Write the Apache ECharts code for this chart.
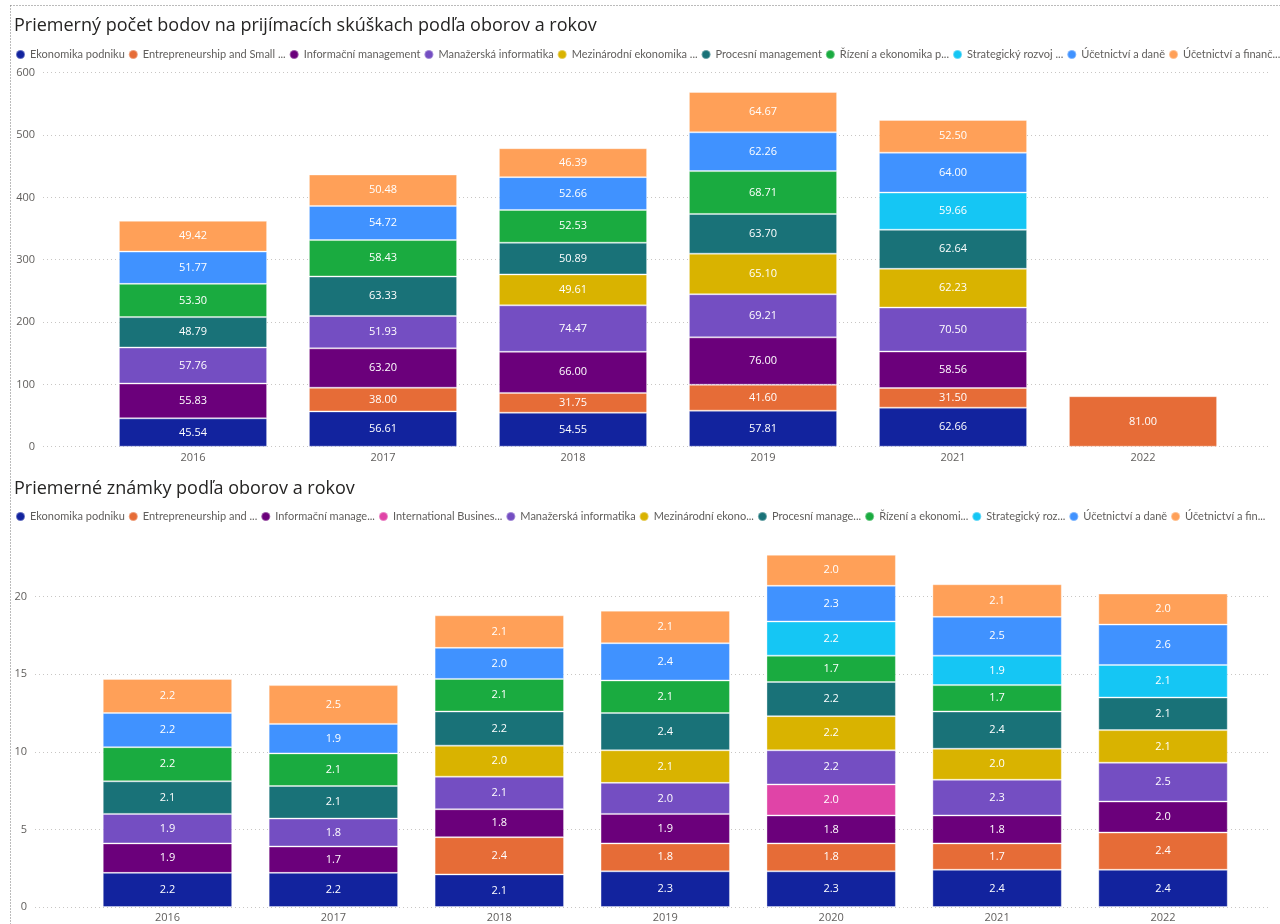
<!DOCTYPE html>
<html>
<head>
<meta charset="utf-8">
<script src="https://cdn.jsdelivr.net/npm/echarts@6/dist/echarts.min.js"></script>
<style>
html,body{margin:0;padding:0;background:#fff;}
#chart{width:1280px;height:924px;}
</style>
</head>
<body>
<div id="chart"></div>
<script>
// ---------- Data: top chart (points) ----------
const topTitle = 'Priemerný počet bodov na prijímacích skúškach podľa oborov a rokov';
const topYears = ['2016', '2017', '2018', '2019', '2021', '2022'];
const topNames = [
  'Ekonomika podniku', 'Entrepreneurship and Small ...', 'Informační management',
  'Manažerská informatika', 'Mezinárodní ekonomika ...', 'Procesní management',
  'Řízení a ekonomika p...', 'Strategický rozvoj ...', 'Účetnictví a daně', 'Účetnictví a finanč...'
];
const topEkonomika     = [45.54, 56.61, 54.55, 57.81, 62.66, null];
const topEntrepreneur  = [null, 38.00, 31.75, 41.60, 31.50, 81.00];
const topInformacni    = [55.83, 63.20, 66.00, 76.00, 58.56, null];
const topManazerska    = [57.76, 51.93, 74.47, 69.21, 70.50, null];
const topMezinarodni   = [null, null, 49.61, 65.10, 62.23, null];
const topProcesni      = [48.79, 63.33, 50.89, 63.70, 62.64, null];
const topRizeni        = [53.30, 58.43, 52.53, 68.71, null, null];
const topStrategicky   = [null, null, null, null, 59.66, null];
const topUcetDane      = [51.77, 54.72, 52.66, 62.26, 64.00, null];
const topUcetFin       = [49.42, 50.48, 46.39, 64.67, 52.50, null];
const topYTicks = [0, 100, 200, 300, 400, 500, 600];

// ---------- Data: bottom chart (grades) ----------
const botTitle = 'Priemerné známky podľa oborov a rokov';
const botYears = ['2016', '2017', '2018', '2019', '2020', '2021', '2022'];
const botNames = [
  'Ekonomika podniku', 'Entrepreneurship and ...', 'Informační manage...', 'International Busines...',
  'Manažerská informatika', 'Mezinárodní ekono...', 'Procesní manage...', 'Řízení a ekonomi...',
  'Strategický roz...', 'Účetnictví a daně', 'Účetnictví a fin...'
];
const botEkonomika     = [2.2, 2.2, 2.1, 2.3, 2.3, 2.4, 2.4];
const botEntrepreneur  = [null, null, 2.4, 1.8, 1.8, 1.7, 2.4];
const botInformacni    = [1.9, 1.7, 1.8, 1.9, 1.8, 1.8, 2.0];
const botInternational = [null, null, null, null, 2.0, null, null];
const botManazerska    = [1.9, 1.8, 2.1, 2.0, 2.2, 2.3, 2.5];
const botMezinarodni   = [null, null, 2.0, 2.1, 2.2, 2.0, 2.1];
const botProcesni      = [2.1, 2.1, 2.2, 2.4, 2.2, 2.4, 2.1];
const botRizeni        = [2.2, 2.1, 2.1, 2.1, 1.7, 1.7, null];
const botStrategicky   = [null, null, null, null, 2.2, 1.9, 2.1];
const botUcetDane      = [2.2, 1.9, 2.0, 2.4, 2.3, 2.5, 2.6];
const botUcetFin       = [2.2, 2.5, 2.1, 2.1, 2.0, 2.1, 2.0];
const botYTicks = [0, 5, 10, 15, 20];

// ---------- Colors ----------
const C = {
  ek: '#12239E', en: '#E66C37', inf: '#6B007B', intl: '#E044A7', man: '#744EC2',
  mez: '#D9B300', proc: '#197278', riz: '#1AAB40', str: '#15C6F4', ud: '#4092FF', uf: '#FFA058'
};
const topColors = [C.ek, C.en, C.inf, C.man, C.mez, C.proc, C.riz, C.str, C.ud, C.uf];
const botColors = [C.ek, C.en, C.inf, C.intl, C.man, C.mez, C.proc, C.riz, C.str, C.ud, C.uf];
const topData = [topEkonomika, topEntrepreneur, topInformacni, topManazerska, topMezinarodni,
  topProcesni, topRizeni, topStrategicky, topUcetDane, topUcetFin];
const botData = [botEkonomika, botEntrepreneur, botInformacni, botInternational, botManazerska,
  botMezinarodni, botProcesni, botRizeni, botStrategicky, botUcetDane, botUcetFin];

const FONT = 'Open Sans';
const LFONT = 'Lato';
const GRAY = '#605E5C';

function makeSeries(names, data, colors, xi, yi, stack, decimals) {
  return names.map((n, i) => ({
    name: n, type: 'bar', stack: stack, xAxisIndex: xi, yAxisIndex: yi,
    barCategoryGap: '22%',
    data: data[i],
    itemStyle: { color: colors[i], borderColor: 'rgba(255,255,255,0.35)', borderWidth: 1 },
    label: {
      show: true, position: 'inside', color: '#fff', fontSize: 11, fontFamily: FONT,
      formatter: p => (p.value == null ? '' : Number(p.value).toFixed(decimals))
    },
    emphasis: { disabled: true }
  }));
}

const gridLineStyle = { color: '#C8C6C4', type: [1, 3], width: 1 };
const legendText = { fontSize: 11, color: GRAY, fontFamily: LFONT };

const option = {
  animation: false,
  textStyle: { fontFamily: FONT },
  title: [
    { text: topTitle, left: 9, top: 12, textStyle: { fontFamily: FONT, fontSize: 18, fontWeight: 'normal', color: '#252423' } },
    { text: botTitle, left: 9, top: 475, textStyle: { fontFamily: FONT, fontSize: 18, fontWeight: 'normal', color: '#252423' } }
  ],
  legend: [
    { data: topNames, left: 10, width: 1400, top: 44, icon: 'circle', itemWidth: 9, itemHeight: 9, itemGap: 3,
      textStyle: legendText },
    { data: botNames, left: 10, width: 1400, top: 506, icon: 'circle', itemWidth: 9, itemHeight: 9, itemGap: 3,
      textStyle: legendText }
  ],
  grid: [
    { left: 43, right: 10, top: 72.7, height: 374 },
    { left: 98, right: 42, top: 72.7, height: 374 },
    { left: 35, right: 10, top: 545, height: 362 },
    { left: 84.5, right: 34, top: 545, height: 362 }
  ],
  xAxis: [
    { gridIndex: 0, type: 'category', data: topYears, show: false },
    { gridIndex: 1, type: 'category', data: topYears, axisLine: { show: false }, axisTick: { show: false },
      axisLabel: { color: GRAY, fontSize: 11, margin: 6, fontFamily: FONT } },
    { gridIndex: 2, type: 'category', data: botYears, show: false },
    { gridIndex: 3, type: 'category', data: botYears, axisLine: { show: false }, axisTick: { show: false },
      axisLabel: { color: GRAY, fontSize: 11, margin: 5, fontFamily: FONT } }
  ],
  yAxis: [
    { gridIndex: 0, type: 'value', min: topYTicks[0], max: topYTicks[topYTicks.length - 1], interval: 100,
      axisLine: { show: false }, axisTick: { show: false },
      axisLabel: { color: GRAY, fontSize: 11, margin: 8, fontFamily: FONT },
      splitLine: { show: true, lineStyle: gridLineStyle } },
    { gridIndex: 1, type: 'value', min: topYTicks[0], max: topYTicks[topYTicks.length - 1], interval: 100, show: false,
      splitLine: { show: false } },
    { gridIndex: 2, type: 'value', min: botYTicks[0], max: 23.33, interval: 5,
      axisLine: { show: false }, axisTick: { show: false },
      axisLabel: { color: GRAY, fontSize: 11, margin: 8, fontFamily: FONT, showMaxLabel: false,
        formatter: v => (botYTicks.indexOf(v) >= 0 ? String(v) : '') },
      splitLine: { show: true, showMaxLine: false, lineStyle: gridLineStyle } },
    { gridIndex: 3, type: 'value', min: botYTicks[0], max: 23.33, interval: 5, show: false,
      splitLine: { show: false } }
  ],
  series: [
    ...makeSeries(topNames, topData, topColors, 1, 1, 'top', 2),
    ...makeSeries(botNames, botData, botColors, 3, 3, 'bot', 1)
  ],
  graphic: [
    { type: 'line', shape: { x1: 10.5, y1: 5.5, x2: 1280, y2: 5.5 }, style: { stroke: '#777', lineDash: [1, 2], lineWidth: 1 }, silent: true },
    { type: 'line', shape: { x1: 10.5, y1: 5.5, x2: 10.5, y2: 924 }, style: { stroke: '#777', lineDash: [1, 2], lineWidth: 1 }, silent: true }
  ]
};

const chart = echarts.init(document.getElementById('chart'), null, { renderer: 'canvas' });
chart.setOption(option);
</script>
</body>
</html>
